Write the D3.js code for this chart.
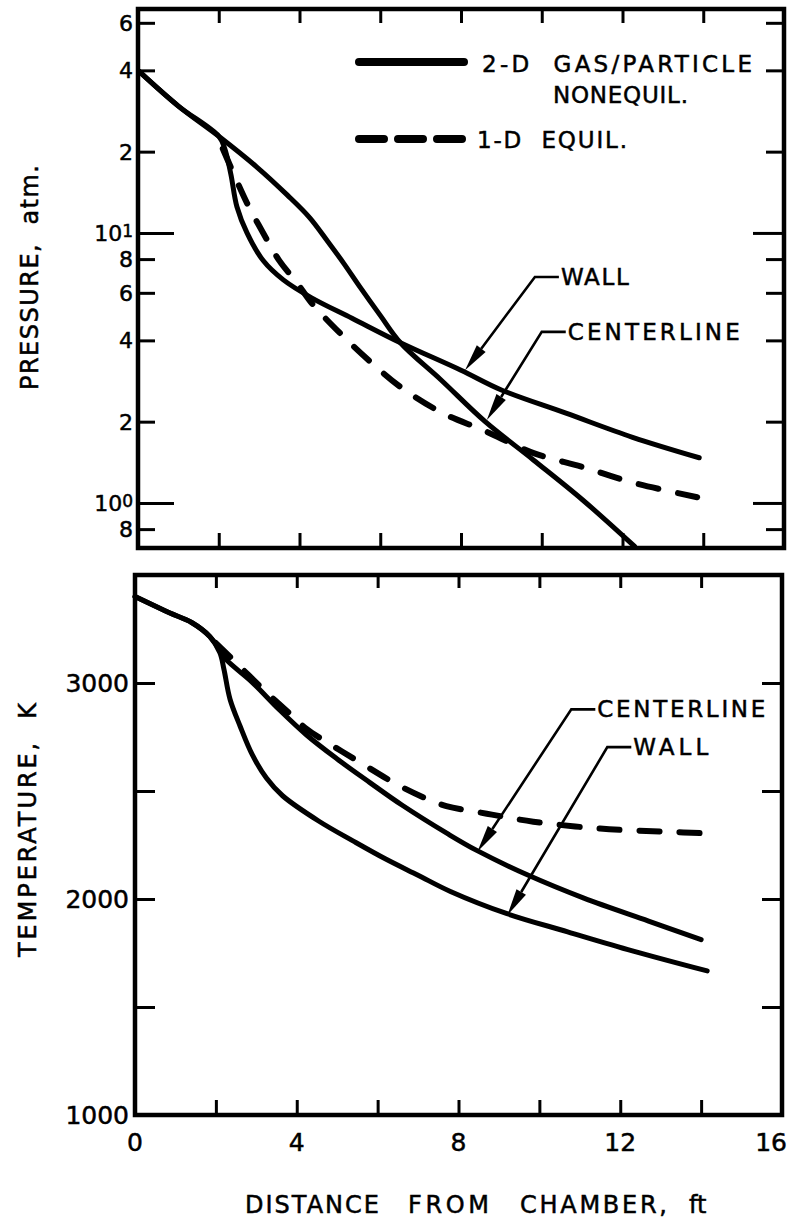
<!DOCTYPE html>
<html>
<head>
<meta charset="utf-8">
<script src="https://cdn.jsdelivr.net/npm/d3@7"></script>
<style>
  body { margin: 0; background: #fff; }
  svg { display: block; }
  text { font-family: "DejaVu Sans", sans-serif; fill: #000; stroke: #000; stroke-width: 0.5; }
</style>
</head>
<body>
<div id="chart"></div>
<script>
// x axis: distance from chamber, ft
const xTicks = [2, 4, 6, 8, 10, 12, 14];
const xLabelValues = [0, 4, 8, 12, 16];

// pressure panel (log axis, atm)
const pMinorTicks = [0.8, 2, 4, 6, 8, 20, 40, 60];
const pMajorTicks = [1, 10];
const pLabelValues = [0.8, 1, 2, 4, 6, 8, 10, 20, 40, 60];
const pLabelText = ["8", "10", "2", "4", "6", "8", "10", "2", "4", "6"];
const pLabelExp = ["", "0", "", "", "", "", "1", "", "", ""];

const pCenterDist = [0, 1.0, 2.0, 2.95, 3.7, 4.25, 4.7, 5.1, 5.5, 6.0, 6.5, 7.5, 8.6, 9.8, 11.0, 12.3];
const pCenterVal = [40, 29.5, 22.8, 17.5, 13.8, 11.4, 9.3, 7.7, 6.3, 4.95, 3.92, 2.86, 2.0, 1.44, 1.03, 0.69];

const pWallDist = [0, 1.0, 2.0, 2.15, 2.3, 2.45, 2.7, 3.1, 3.6, 4.3, 5.3, 6.5, 8.0, 9.0, 10.6, 12.25, 13.9];
const pWallVal = [40, 29.5, 22.8, 20.5, 16.5, 12.5, 10.0, 7.9, 6.7, 5.75, 4.83, 3.92, 3.1, 2.62, 2.15, 1.75, 1.47];

const pEquilDist = [2.1, 2.7, 3.1, 3.5, 3.95, 4.3, 5.0, 5.7, 6.5, 7.55, 8.55, 9.8, 11.0, 12.25, 13.85];
const pEquilVal = [20.5, 12.9, 10.0, 7.9, 6.5, 5.5, 4.26, 3.39, 2.69, 2.15, 1.86, 1.53, 1.36, 1.19, 1.05];

// temperature panel, K
const tTicks = [1500, 2000, 2500, 3000];
const tLabelValues = [1000, 2000, 3000];

const tCenterDist = [0, 0.85, 1.4, 1.85, 2.1, 2.25, 2.9, 3.55, 4.25, 5.0, 5.8, 6.6, 7.75, 8.45, 9.7, 11.1, 12.7, 14.0];
const tCenterVal = [3400, 3325, 3280, 3215, 3150, 3109, 3003, 2880, 2758, 2648, 2540, 2435, 2300, 2225, 2112, 2004, 1898, 1812];

const tWallDist = [0, 0.85, 1.4, 1.85, 2.1, 2.2, 2.35, 2.6, 2.9, 3.25, 3.65, 4.55, 5.4, 6.2, 7.0, 7.8, 9.2, 10.7, 12.3, 14.15];
const tWallVal = [3400, 3325, 3280, 3215, 3140, 3063, 2925, 2800, 2668, 2560, 2478, 2360, 2268, 2185, 2110, 2035, 1932, 1848, 1760, 1667];

const tEquilDist = [2.0, 2.6, 3.2, 3.9, 4.25, 4.9, 5.55, 6.5, 7.2, 7.7, 8.7, 9.85, 11.5, 13.1, 14.3];
const tEquilVal = [3185, 3075, 2965, 2846, 2786, 2708, 2634, 2528, 2465, 2430, 2395, 2358, 2326, 2312, 2303];

const width = 789, height = 1223;

const svg = d3.select("#chart")
    .append("svg")
    .attr("width", width)
    .attr("height", height);

// scales
const xP = d3.scaleLinear().domain([0, 16]).range([138, 784]);
const yP = d3.scaleLog().domain([0.681, 67.5]).range([548, 9]);
const xT = d3.scaleLinear().domain([0, 16]).range([135, 782]);
const yT = d3.scaleLinear().domain([1000, 3500]).range([1115, 575]);

function styleTicks(g) {
    g.select(".domain").remove();
    g.selectAll(".tick line").attr("stroke", "#000").attr("stroke-width", 3);
    g.selectAll(".tick text").remove();
}

function frame(x, y) {
    svg.append("rect")
        .attr("x", x.range()[0])
        .attr("y", y.range()[1])
        .attr("width", x.range()[1] - x.range()[0])
        .attr("height", y.range()[0] - y.range()[1])
        .attr("fill", "none")
        .attr("stroke", "#000")
        .attr("stroke-width", 4.5);
}

function text(x, y, str, size, len, opts = {}) {
    const t = svg.append("text")
        .attr("x", x)
        .attr("y", y)
        .attr("font-size", size)
        .attr("text-anchor", opts.anchor || "start")
        .text(str);
    if (len) t.attr("textLength", len).attr("lengthAdjust", "spacing");
    return t;
}

// leader line with a filled arrowhead, and its label
function arrow(x, y, elbow, tip, label, labelLen) {
    const ex = x(elbow[0]), ey = y(elbow[1]);
    const tx = x(tip[0]), ty = y(tip[1]);
    const ang = Math.atan2(ty - ey, tx - ex);
    const len = 27, hw = 5.5;
    const bx = tx - len * Math.cos(ang), by = ty - len * Math.sin(ang);
    svg.append("path")
        .attr("d", `M${ex + 24},${ey}L${ex},${ey}L${bx},${by}`)
        .attr("fill", "none")
        .attr("stroke", "#000")
        .attr("stroke-width", 2.6);
    svg.append("path")
        .attr("d", `M${tx},${ty}L${bx - hw * Math.sin(ang)},${by + hw * Math.cos(ang)}L${bx + hw * Math.sin(ang)},${by - hw * Math.cos(ang)}Z`)
        .attr("fill", "#000");
    text(ex + 26, ey + 8, label, 23, labelLen);
}

// ---------- top panel: pressure ----------
svg.append("g").attr("transform", `translate(0,${yP.range()[0]})`)
    .call(d3.axisBottom(xP).tickValues(xTicks).tickSize(-15)).call(styleTicks);
svg.append("g").attr("transform", `translate(0,${yP.range()[1]})`)
    .call(d3.axisTop(xP).tickValues(xTicks).tickSize(-14)).call(styleTicks);
svg.append("g").attr("transform", `translate(${xP.range()[0]},0)`)
    .call(d3.axisLeft(yP).tickValues(pMinorTicks).tickSize(-17)).call(styleTicks);
svg.append("g").attr("transform", `translate(${xP.range()[0]},0)`)
    .call(d3.axisLeft(yP).tickValues(pMajorTicks).tickSize(-36)).call(styleTicks);
svg.append("g").attr("transform", `translate(${xP.range()[1]},0)`)
    .call(d3.axisRight(yP).tickValues(pMinorTicks).tickSize(-18)).call(styleTicks);
svg.append("g").attr("transform", `translate(${xP.range()[1]},0)`)
    .call(d3.axisRight(yP).tickValues(pMajorTicks).tickSize(-31)).call(styleTicks);
frame(xP, yP);

pLabelValues.forEach((v, i) => {
    const t = text(133, yP(v) + 8, pLabelText[i], 22, null, { anchor: "end" });
    if (pLabelExp[i]) {
        t.append("tspan").attr("font-size", 17).attr("dy", -4).text(pLabelExp[i]);
    }
});

svg.append("clipPath").attr("id", "clipP").append("rect")
    .attr("x", xP.range()[0]).attr("y", yP.range()[1])
    .attr("width", xP.range()[1] - xP.range()[0])
    .attr("height", yP.range()[0] - yP.range()[1]);

const lineP = d3.line().x(d => xP(d[0])).y(d => yP(d[1])).curve(d3.curveCatmullRom.alpha(0.5));

[[pCenterDist, pCenterVal], [pWallDist, pWallVal]].forEach(s => {
    svg.append("path")
        .datum(d3.zip(s[0], s[1]))
        .attr("clip-path", "url(#clipP)")
        .attr("fill", "none").attr("stroke", "#000")
        .attr("stroke-width", 5).attr("stroke-linecap", "round").attr("stroke-linejoin", "round")
        .attr("d", lineP);
});
svg.append("path")
    .datum(d3.zip(pEquilDist, pEquilVal))
    .attr("fill", "none").attr("stroke", "#000")
    .attr("stroke-width", 6).attr("stroke-linecap", "round")
    .attr("stroke-dasharray", "20 20")
    .attr("d", lineP);

// legend
svg.append("line").attr("x1", 359).attr("x2", 464).attr("y1", 62).attr("y2", 62)
    .attr("stroke", "#000").attr("stroke-width", 8).attr("stroke-linecap", "round");
svg.append("line").attr("x1", 359).attr("x2", 464).attr("y1", 139).attr("y2", 139)
    .attr("stroke", "#000").attr("stroke-width", 8).attr("stroke-linecap", "round")
    .attr("stroke-dasharray", "25 14");
text(482, 72, "2-D\u00a0\u00a0GAS/PARTICLE", 23, 270);
text(553, 103, "NONEQUIL.", 23, 135);
text(477, 148, "1-D\u00a0\u00a0EQUIL.", 23, 150);

arrow(xP, yP, [9.83, 6.87], [8.1, 3.1], "WALL", 68);
arrow(xP, yP, [10.0, 4.3], [8.64, 2.03], "CENTERLINE", 172);

// ---------- bottom panel: temperature ----------
svg.append("g").attr("transform", `translate(0,${yT.range()[0]})`)
    .call(d3.axisBottom(xT).tickValues(xTicks).tickSize(-15)).call(styleTicks);
svg.append("g").attr("transform", `translate(0,${yT.range()[1]})`)
    .call(d3.axisTop(xT).tickValues(xTicks).tickSize(-13)).call(styleTicks);
svg.append("g").attr("transform", `translate(${xT.range()[0]},0)`)
    .call(d3.axisLeft(yT).tickValues(tTicks).tickSize(-20)).call(styleTicks);
svg.append("g").attr("transform", `translate(${xT.range()[1]},0)`)
    .call(d3.axisRight(yT).tickValues(tTicks).tickSize(-20)).call(styleTicks);
frame(xT, yT);

tLabelValues.forEach(v => text(129, yT(v) + 9, String(v), 25, null, { anchor: "end" }));
// the last label sits at the page edge, so it is right-aligned there
xLabelValues.forEach(v => {
    const x = xT(v);
    if (x + 16 > width) text(width - 2, 1151, String(v), 25, null, { anchor: "end" });
    else text(x, 1151, String(v), 25, null, { anchor: "middle" });
});

const lineT = d3.line().x(d => xT(d[0])).y(d => yT(d[1])).curve(d3.curveCatmullRom.alpha(0.5));

[[tCenterDist, tCenterVal], [tWallDist, tWallVal]].forEach(s => {
    svg.append("path")
        .datum(d3.zip(s[0], s[1]))
        .attr("fill", "none").attr("stroke", "#000")
        .attr("stroke-width", 5).attr("stroke-linecap", "round").attr("stroke-linejoin", "round")
        .attr("d", lineT);
});
svg.append("path")
    .datum(d3.zip(tEquilDist, tEquilVal))
    .attr("fill", "none").attr("stroke", "#000")
    .attr("stroke-width", 6).attr("stroke-linecap", "round")
    .attr("stroke-dasharray", "20 20")
    .attr("d", lineT);

arrow(xT, yT, [10.79, 2878], [8.47, 2220], "CENTERLINE", 168);
arrow(xT, yT, [11.68, 2703], [9.21, 1925], "WALL", 75);

// axis titles
text(0, 0, "PRESSURE,\u00a0\u00a0atm.", 24, 225)
    .attr("transform", "translate(38,390) rotate(-90)");
text(0, 0, "TEMPERATURE,\u00a0\u00a0K", 24, 254)
    .attr("transform", "translate(36,957) rotate(-90)");

text(245, 1213, "DISTANCE", 24, 134);
text(408, 1213, "FROM", 24, 81);
text(520, 1213, "CHAMBER,", 24, 147);
text(689, 1213, "ft", 24);
</script>
</body>
</html>
